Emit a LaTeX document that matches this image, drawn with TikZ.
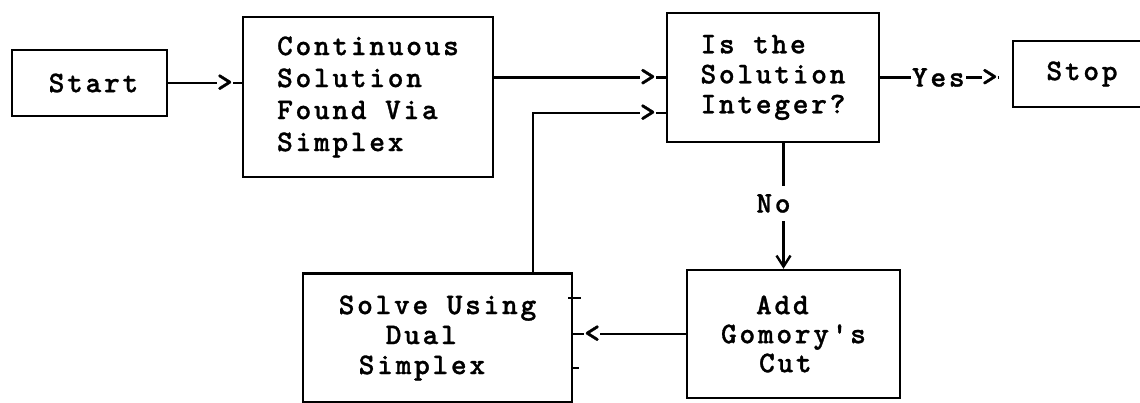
\documentclass[tikz,border=0pt]{standalone}
\usepackage{fontspec}
\usetikzlibrary{arrows.meta}
\newfontfamily\typewrfamily{lmmonolt10-bold.otf}[LetterSpace=9, FakeBold=1]
\newcommand\typewr{\typewrfamily\fontsize{30}{30}\selectfont}
\tikzset{
  box/.style={draw, line width=2.4pt, inner sep=0pt, font=\typewr},
  conn/.style={line width=2.4pt},
  tipglyph/.style={fill=white, inner sep=0pt, font=\typewr},
  lbl/.style={fill=white, inner xsep=1pt, inner ysep=8pt, font=\typewr}
}
\begin{document}
\begin{tikzpicture}[x=1pt, y=-1pt]
  \useasboundingbox (0,0) rectangle (1140,403);
  \clip (0,0) rectangle (1140,403);

  % boxes
  \node[box, minimum width=155pt, minimum height=66pt] (start) at (89.5,83) {\hspace*{8pt}Start};
  \node[box, minimum width=250pt, minimum height=160pt, align=left,
        font=\typewr\fontsize{30}{32}\selectfont] (cont) at (368,97)
        {Continuous\\Solution\\Found Via\\Simplex};
  \node[box, minimum width=212pt, minimum height=129pt, align=left] (isint) at (773,77.5)
        {Is the\\Solution\\Integer?};
  \node[box, minimum width=138pt, minimum height=66pt] (stop) at (1082,74) {Stop};
  \node[box, minimum width=213pt, minimum height=128pt, align=left,
        font=\typewr\fontsize{30}{29}\selectfont] (add) at (793.5,334)
        {\hspace*{35pt}Add\\Gomory's\\\hspace*{38pt}Cut};
  \node[box, minimum width=269pt, minimum height=129pt, align=left] (solve) at (437.5,338)
        {Solve Using\\\hspace*{47pt}Dual\\\hspace*{20pt}Simplex};

  % connectors
  \draw[conn] (start.east) -- node[tipglyph, pos=1, xshift=-17pt] {>} (start.east -| cont.west);
  \draw[conn] (isint.west -| cont.east) -- node[tipglyph, pos=1, xshift=-18pt] {>} (isint.west);
  \coordinate (bend) at (533,113);
  \draw[conn] (bend |- solve.north) -- (bend) -- node[tipglyph, pos=1, xshift=-18pt] {>} (bend -| isint.west);
  \draw[conn] (isint.east) -- node[lbl, inner ysep=2pt, pos=0.49] {Yes}
        node[tipglyph, pos=1, anchor=east] {>} ([xshift=-13pt]isint.east -| stop.west);
  \draw[conn, -{Straight Barb[length=11pt, width=14pt]}] ([xshift=10.5pt]isint.south)
        -- node[lbl, pos=0.48, xshift=-10pt] {No} ([xshift=10.5pt]isint.south |- add.north);
  \draw[conn] (add.west) -- node[tipglyph, pos=1, xshift=19pt] {<} (add.west -| solve.east);

  % small marks on the right side of the dual simplex box
  \draw[conn] ([xshift=-5pt, yshift=40pt]solve.east) -- ++(13,0);
  \draw[conn] ([yshift=-30pt]solve.east) -- ++(6,0);
\end{tikzpicture}
\end{document}
